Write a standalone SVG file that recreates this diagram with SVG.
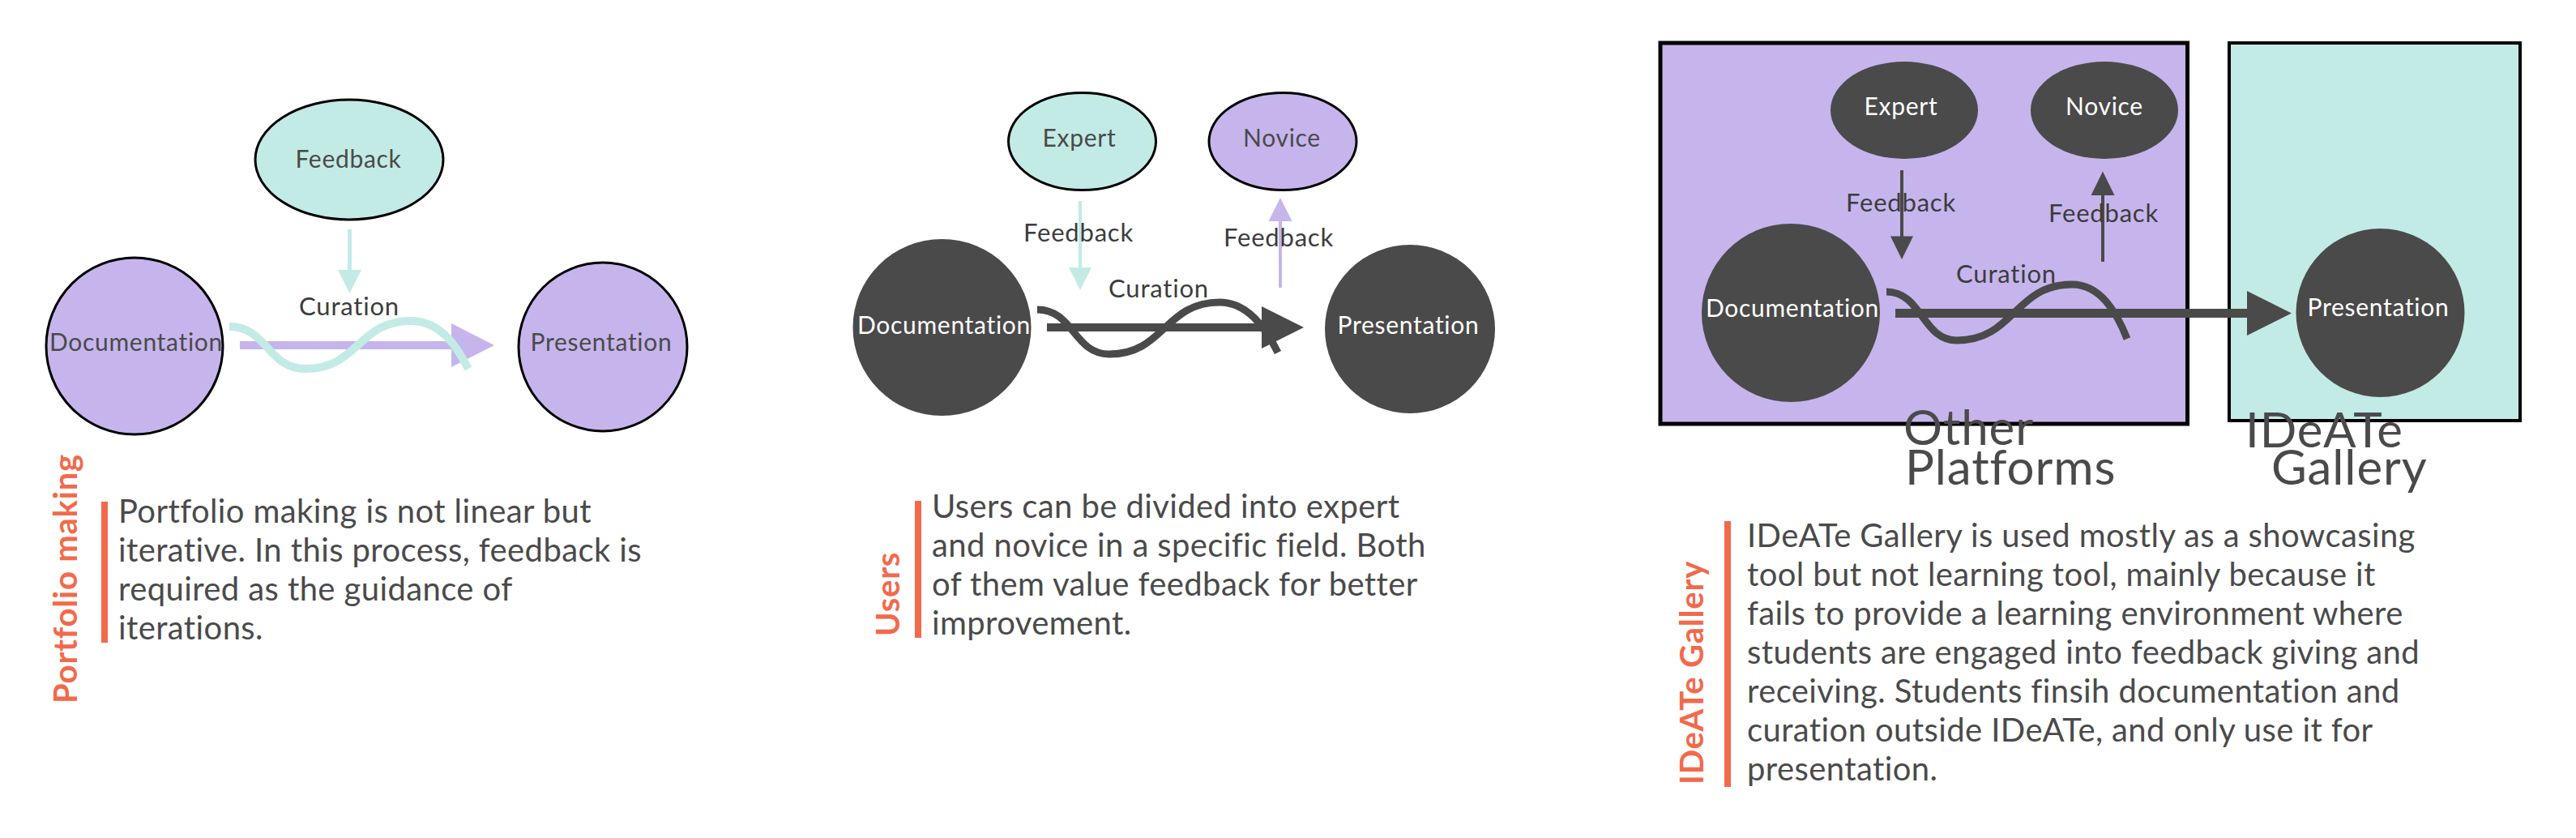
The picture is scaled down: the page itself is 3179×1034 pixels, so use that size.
<svg xmlns="http://www.w3.org/2000/svg" width="3179" height="1034" viewBox="0 0 3179 1034">
<style>
text{font-family:Lato,"Liberation Sans",sans-serif;}
.node{font-size:30px;letter-spacing:0.7px;text-anchor:middle;fill:#4a4a4a;}
.nodew{font-size:30px;letter-spacing:0.7px;text-anchor:middle;fill:#ffffff;}
.lbl{font-size:31px;letter-spacing:0.8px;text-anchor:middle;fill:#3c3c3c;}
.body{font-size:40px;letter-spacing:0.4px;fill:#4a4a4a;}
.side{font-size:40px;letter-spacing:0.8px;font-weight:bold;fill:#f26a4b;}
.big{font-size:60px;letter-spacing:0.9px;fill:#4a4a4a;}
.pur{fill:#c6b5ec;stroke:#000;stroke-width:3;}
.teal{fill:#c3ebe5;stroke:#000;stroke-width:3;}
.dark{fill:#4a4a4a;}
.bar{fill:#f26a4b;}
</style>
<rect width="3179" height="1034" fill="#ffffff"/>

<!-- Panel 1 -->
<g id="p1-feedback"><ellipse class="teal" cx="431" cy="197" rx="116" ry="74"/><text class="node" x="430" y="207">Feedback</text></g>
<g id="p1-documentation"><ellipse class="pur" cx="166" cy="427" rx="109" ry="109"/><text class="node" x="168" y="433">Documentation</text></g>
<g id="p1-presentation"><ellipse class="pur" cx="744" cy="428" rx="104" ry="104"/><text class="node" x="742" y="433">Presentation</text></g>
<g id="p1-connectors">
<line x1="431.5" y1="283" x2="431.5" y2="336" stroke="#c3ebe5" stroke-width="5"/>
<polygon points="417,333 446,333 431.5,362" fill="#c3ebe5"/>
<line x1="296" y1="426" x2="558" y2="426" stroke="#c6b5ec" stroke-width="10"/>
<polygon points="557,399 610,426 557,453" fill="#c6b5ec"/>
<path d="M283,403 C330,403 330,455 377,455 C442,455 442,396 507,396 C545,396 565,430 578,455" fill="none" stroke="#c3ebe5" stroke-width="10"/>
<text class="lbl" x="431" y="389">Curation</text>
</g>
<g id="p1-text">
<rect class="bar" x="125" y="619" width="8" height="174"/>
<text class="side" transform="translate(95,868) rotate(-90)">Portfolio making</text>
<text class="body" x="146" y="645">Portfolio making is not linear but</text>
<text class="body" x="146" y="693">iterative. In this process, feedback is</text>
<text class="body" x="146" y="741">required as the guidance of</text>
<text class="body" x="146" y="789">iterations.</text>
</g>

<!-- Panel 2 -->
<g id="p2-expert"><ellipse class="teal" cx="1335.5" cy="174.5" rx="91" ry="60"/><text class="node" x="1332" y="181">Expert</text></g>
<g id="p2-novice"><ellipse class="pur" cx="1583" cy="174.5" rx="91" ry="60"/><text class="node" x="1582" y="181">Novice</text></g>
<g id="p2-documentation"><ellipse class="dark" cx="1162.5" cy="404" rx="110" ry="109"/><text class="nodew" x="1165" y="412">Documentation</text></g>
<g id="p2-presentation"><ellipse class="dark" cx="1740" cy="406" rx="105" ry="104"/><text class="nodew" x="1738" y="412">Presentation</text></g>
<g id="p2-connectors">
<line x1="1333" y1="248" x2="1333" y2="333" stroke="#c3ebe5" stroke-width="4"/>
<polygon points="1319,330 1347,330 1333,358" fill="#c3ebe5"/>
<line x1="1580" y1="355" x2="1580" y2="270" stroke="#c6b5ec" stroke-width="4"/>
<polygon points="1565.5,273 1594.5,273 1580,244" fill="#c6b5ec"/>
<text class="lbl" x="1331" y="298">Feedback</text>
<text class="lbl" x="1578" y="304">Feedback</text>
<line x1="1292" y1="404" x2="1558" y2="404" stroke="#4a4a4a" stroke-width="10"/>
<polygon points="1557,378 1609,404 1557,430" fill="#4a4a4a"/>
<path d="M1280,382 C1325,382 1325,437 1369,437 C1437,437 1437,373 1505,373 C1540,373 1562,405 1577,435" fill="none" stroke="#4a4a4a" stroke-width="9"/>
<text class="lbl" x="1430" y="367">Curation</text>
</g>
<g id="p2-text">
<rect class="bar" x="1129" y="618" width="8" height="169"/>
<text class="side" transform="translate(1110,785) rotate(-90)">Users</text>
<text class="body" x="1150" y="639">Users can be divided into expert</text>
<text class="body" x="1150" y="687">and novice in a specific field. Both</text>
<text class="body" x="1150" y="735">of them value feedback for better</text>
<text class="body" x="1150" y="783">improvement.</text>
</g>

<!-- Panel 3 -->
<g id="p3-other-platforms"><rect x="2049" y="53" width="650.5" height="470" fill="#c6b5ec" stroke="#000" stroke-width="5"/></g>
<g id="p3-ideate-gallery"><rect x="2751" y="53" width="359" height="466" fill="#c3ebe5" stroke="#000" stroke-width="4"/></g>
<g id="p3-expert"><ellipse class="dark" cx="2350" cy="136" rx="91" ry="60"/><text class="nodew" x="2346" y="142">Expert</text></g>
<g id="p3-novice"><ellipse class="dark" cx="2597" cy="136" rx="91" ry="60"/><text class="nodew" x="2597" y="142">Novice</text></g>
<g id="p3-documentation"><ellipse class="dark" cx="2210" cy="386" rx="110" ry="110"/><text class="nodew" x="2212" y="391">Documentation</text></g>
<g id="p3-presentation"><ellipse class="dark" cx="2937.5" cy="386" rx="104" ry="104"/><text class="nodew" x="2935" y="390">Presentation</text></g>
<g id="p3-connectors">
<line x1="2347" y1="210" x2="2347" y2="294" stroke="#4a4a4a" stroke-width="4"/>
<polygon points="2333,291.5 2361,291.5 2347,320" fill="#4a4a4a"/>
<line x1="2595" y1="323" x2="2595" y2="238" stroke="#4a4a4a" stroke-width="4"/>
<polygon points="2580.5,241 2609.5,241 2595,211.5" fill="#4a4a4a"/>
<text class="lbl" x="2346" y="261">Feedback</text>
<text class="lbl" x="2596" y="273.5">Feedback</text>
<line x1="2339" y1="386.5" x2="2774" y2="386.5" stroke="#4a4a4a" stroke-width="11"/>
<polygon points="2773,359 2828,386.5 2773,414" fill="#4a4a4a"/>
<path d="M2328,360 C2372,360 2372,420 2415,420 C2486,420 2486,351 2557,351 C2592,351 2612,385 2625,418" fill="none" stroke="#4a4a4a" stroke-width="9"/>
<text class="lbl" x="2476" y="348.5">Curation</text>
</g>
<g id="p3-titles">
<text class="big" x="2349" y="549">Other</text>
<text class="big" x="2351" y="598">Platforms</text>
<text class="big" x="2771" y="552">IDeATe</text>
<text class="big" x="2803" y="598">Gallery</text>
</g>
<g id="p3-text">
<rect class="bar" x="2128" y="643" width="8" height="328"/>
<text class="side" transform="translate(2102,968) rotate(-90)">IDeATe Gallery</text>
<text class="body" x="2156" y="675">IDeATe Gallery is used mostly as a showcasing</text>
<text class="body" x="2156" y="723">tool but not learning tool, mainly because it</text>
<text class="body" x="2156" y="771">fails to provide a learning environment where</text>
<text class="body" x="2156" y="819">students are engaged into feedback giving and</text>
<text class="body" x="2156" y="867">receiving. Students finsih documentation and</text>
<text class="body" x="2156" y="915">curation outside IDeATe, and only use it for</text>
<text class="body" x="2156" y="963">presentation.</text>
</g>
</svg>
